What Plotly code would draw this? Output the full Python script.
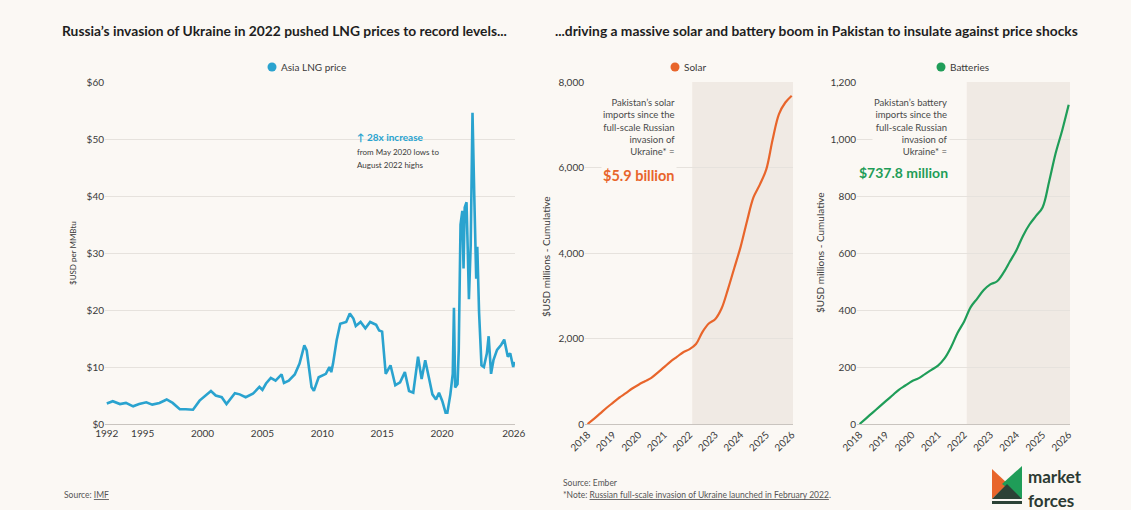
import plotly.graph_objects as go

W, H = 1131, 510
BG = "#fbf8f4"
FONT = "Lato"
TEAL = "#2aa3cf"
ORANGE = "#e8652b"
GREEN = "#1f9d58"
GRID = "#e6e2dd"
TXT = "#3a3a3a"

# ---------------- data ----------------
lng_year = [1992.0, 1992.5, 1993.1, 1993.6, 1994.2, 1994.7, 1995.3, 1995.8, 1996.4, 1997.0,
            1997.5, 1998.1, 1998.6, 1999.2, 1999.75, 2000.3, 2000.7, 2001.1, 2001.6, 2002.0,
            2002.4, 2002.7, 2003.1, 2003.6, 2004.2, 2004.75, 2005.0, 2005.3, 2005.7, 2006.1,
            2006.6, 2006.8, 2007.2, 2007.7, 2008.1, 2008.5, 2008.7, 2009.1, 2009.3, 2009.7,
            2010.3, 2010.6, 2010.75, 2010.9, 2011.2, 2011.5, 2012.0, 2012.3, 2012.6, 2012.8,
            2013.2, 2013.6, 2014.0, 2014.5, 2014.75, 2015.0, 2015.3, 2015.7, 2016.1, 2016.5,
            2016.9, 2017.25, 2017.6, 2018.0, 2018.3, 2018.6, 2018.9, 2019.2, 2019.5, 2019.75,
            2020.03, 2020.3, 2020.45, 2020.7, 2020.9, 2021.0, 2021.1, 2021.3, 2021.4, 2021.55,
            2021.7, 2021.8, 2021.9, 2022.05, 2022.15, 2022.25, 2022.4, 2022.55, 2022.7, 2022.86,
            2022.95, 2023.1, 2023.3, 2023.5, 2023.75, 2023.9, 2024.1, 2024.3, 2024.6, 2024.95,
            2025.2, 2025.5, 2025.7, 2025.85, 2025.95, 2026.05]
lng_price = [3.6, 4.0, 3.5, 3.7, 3.1, 3.5, 3.8, 3.4, 3.7, 4.3,
             3.7, 2.6, 2.6, 2.5, 4.1, 5.0, 5.8, 5.0, 4.7, 3.5,
             4.6, 5.4, 5.2, 4.7, 5.3, 6.5, 6.0, 7.1, 8.1, 7.6,
             8.7, 7.2, 7.6, 8.7, 10.6, 13.8, 12.9, 6.5, 5.8, 8.2,
             8.8, 10.0, 9.1, 10.6, 14.7, 17.6, 17.9, 19.4, 18.5, 17.2,
             17.9, 16.8, 17.9, 17.4, 16.4, 16.2, 8.8, 10.3, 6.8, 7.3,
             9.1, 5.8, 5.5, 11.8, 7.9, 11.2, 8.2, 5.2, 4.3, 5.5,
             4.0, 2.0, 2.0, 5.2, 8.8, 20.4, 6.4, 7.0, 13.0, 35.0,
             37.4, 27.3, 38.0, 38.9, 30.8, 21.9, 31.4, 54.6, 39.8, 25.5,
             31.1, 19.5, 10.3, 10.0, 12.4, 15.4, 8.8, 11.2, 13.0, 13.9,
             14.8, 11.8, 12.4, 10.6, 10.0, 10.9]

cum_year = [2018.0, 2018.25, 2018.5, 2018.75, 2019.0, 2019.25, 2019.5, 2019.75,
            2020.0, 2020.25, 2020.5, 2020.75, 2021.0, 2021.25, 2021.5, 2021.75,
            2022.0, 2022.25, 2022.5, 2022.75, 2023.0, 2023.25, 2023.5, 2023.75,
            2024.0, 2024.25, 2024.5, 2024.75, 2025.0, 2025.25, 2025.5, 2025.75, 2026.0]
solar_cum = [0, 120, 250, 380, 500, 620, 720, 830,
             920, 1000, 1080, 1200, 1330, 1460, 1570, 1680,
             1750, 1870, 2150, 2350, 2450, 2700, 3150, 3650,
             4150, 4750, 5300, 5600, 5950, 6650, 7250, 7520, 7680]
battery_cum = [0, 20, 40, 60, 80, 100, 120, 135,
               150, 160, 175, 190, 205, 230, 270, 320,
               360, 410, 440, 470, 490, 500, 530, 570,
               610, 660, 700, 730, 760, 850, 950, 1030, 1120]

lng_ticks = [1992, 1995, 2000, 2005, 2010, 2015, 2020, 2026]
lng_yticks = [0, 10, 20, 30, 40, 50, 60]
lng_ylabels = ["$0", "$10", "$20", "$30", "$40", "$50", "$60"]
cum_ticks = [2018, 2019, 2020, 2021, 2022, 2023, 2024, 2025, 2026]
solar_yticks = [0, 2000, 4000, 6000, 8000]
solar_ylabels = ["0", "2,000", "4,000", "6,000", "8,000"]
batt_yticks = [0, 200, 400, 600, 800, 1000, 1200]
batt_ylabels = ["0", "200", "400", "600", "800", "1,000", "1,200"]
invasion = 2022.1


def px(x):
    return x / W


def py(y):
    return 1 - y / H


fig = go.Figure()
fig.add_trace(go.Scatter(x=lng_year, y=lng_price, mode="lines",
                         line=dict(color=TEAL, width=2.6), xaxis="x", yaxis="y",
                         showlegend=False))
fig.add_trace(go.Scatter(x=cum_year, y=solar_cum, mode="lines",
                         line=dict(color=ORANGE, width=2.2, shape="spline"), xaxis="x2", yaxis="y2",
                         showlegend=False))
fig.add_trace(go.Scatter(x=cum_year, y=battery_cum, mode="lines",
                         line=dict(color=GREEN, width=2.2, shape="spline"), xaxis="x3", yaxis="y3",
                         showlegend=False))

ydom = [py(424), py(82)]
tickfont = dict(family=FONT, size=10, color=TXT)
common_x = dict(showgrid=False, zeroline=False, showline=True, linecolor="#c9c4bf", linewidth=1,
                ticks="", tickfont=tickfont, automargin=False)
common_y = dict(showgrid=True, gridcolor=GRID, zeroline=False, ticks="", tickfont=tickfont,
                automargin=False)

fig.update_layout(
    width=W, height=H, margin=dict(l=0, r=0, t=0, b=0, autoexpand=False),
    paper_bgcolor=BG, plot_bgcolor=BG,
    font=dict(family=FONT, color=TXT),
    xaxis=dict(domain=[px(105), px(515)], range=[1991.85, 2026.1], tickvals=lng_ticks,
               ticktext=[str(t) for t in lng_ticks], anchor="y", **common_x),
    yaxis=dict(domain=ydom, range=[0, 60], tickvals=lng_yticks, ticktext=lng_ylabels,
               anchor="x", **common_y),
    xaxis2=dict(domain=[px(585), px(793)], range=[2017.9, 2026.05], tickvals=cum_ticks,
                ticktext=[str(t) for t in cum_ticks], tickangle=-45, anchor="y2", **common_x),
    yaxis2=dict(domain=ydom, range=[0, 8000], tickvals=solar_yticks, ticktext=solar_ylabels,
                anchor="x2", **common_y),
    xaxis3=dict(domain=[px(857), px(1070)], range=[2017.9, 2026.05], tickvals=cum_ticks,
                ticktext=[str(t) for t in cum_ticks], tickangle=-45, anchor="y3", **common_x),
    yaxis3=dict(domain=ydom, range=[0, 1200], tickvals=batt_yticks, ticktext=batt_ylabels,
                anchor="x3", **common_y),
)

shapes = []
# shaded post-invasion periods
shapes.append(dict(type="rect", xref="x2", yref="y2", x0=invasion, x1=2026.05, y0=0, y1=8000,
                   fillcolor="#f0eae4", line=dict(width=0), layer="below"))
shapes.append(dict(type="rect", xref="x3", yref="y3", x0=invasion, x1=2026.05, y0=0, y1=1200,
                   fillcolor="#f0eae4", line=dict(width=0), layer="below"))
# legend dots
for cx, col in [(272, TEAL), (675, ORANGE), (941, GREEN)]:
    shapes.append(dict(type="circle", xref="paper", yref="paper",
                       x0=px(cx - 4.5), x1=px(cx + 4.5), y0=py(67 + 4.5), y1=py(67 - 4.5),
                       fillcolor=col, line=dict(width=0)))


def path(pts):
    return "M " + " L ".join(f"{px(x)},{py(y)}" for x, y in pts) + " Z"


# logo mark
shapes.append(dict(type="path", xref="paper", yref="paper",
                   path=path([(992, 469), (1008, 484), (992, 499)]), fillcolor=ORANGE, line=dict(width=0)))
shapes.append(dict(type="path", xref="paper", yref="paper",
                   path=path([(1022, 466), (1022, 499), (1002, 484)]), fillcolor=GREEN, line=dict(width=0)))
shapes.append(dict(type="path", xref="paper", yref="paper",
                   path=path([(992, 499), (1022, 499), (1007, 484)]), fillcolor="#2c4236", line=dict(width=0)))
shapes.append(dict(type="rect", xref="paper", yref="paper",
                   x0=px(992), x1=px(1022), y0=py(504), y1=py(501), fillcolor="#2c4236", line=dict(width=0)))
fig.update_layout(shapes=shapes)

ann = []


def text(x, y, s, size=9, color=TXT, xanchor="left", yanchor="middle", bold=False, **kw):
    if bold:
        s = f"<b>{s}</b>"
    ann.append(dict(x=px(x), y=py(y), xref="paper", yref="paper", text=s, showarrow=False,
                    xanchor=xanchor, yanchor=yanchor, font=dict(family=FONT, size=size, color=color),
                    **kw))


# titles
text(60, 30, "Russia’s invasion of Ukraine in 2022 pushed LNG prices to record levels...", size=13.8,
     color="#1e1e1e", bold=True)
text(553, 30, "...driving a massive solar and battery boom in Pakistan to insulate against price shocks",
     size=13.8, color="#1e1e1e", bold=True)
# legends
text(279, 67, "Asia LNG price", size=10)
text(682, 67, "Solar", size=10)
text(948, 67, "Batteries", size=10)
# y axis titles
text(73, 253, "$USD per MMBtu", size=8, xanchor="center", textangle=-90)
text(546, 257, "$USD millions - Cumulative", size=10, xanchor="center", textangle=-90)
text(820, 253, "$USD millions - Cumulative", size=10, xanchor="center", textangle=-90)
# LNG annotation
text(355, 137, "↑ 28x increase", size=10, color=TEAL, bold=True)
text(355, 152, "from May 2020 lows to", size=8)
text(355, 165, "August 2022 highs", size=8)
# solar / battery call-outs
ann.append(dict(x=px(677), y=py(95), xref="paper", yref="paper", xanchor="right", yanchor="top",
                align="right", showarrow=False, bgcolor=BG,
                text="Pakistan’s solar<br>imports since the<br>full-scale Russian<br>invasion of<br>Ukraine* =",
                font=dict(family=FONT, size=9.5, color="#4a4a4a")))
text(677, 175, "$5.9 billion", size=14.5, color=ORANGE, xanchor="right", bold=True, bgcolor=BG)
ann.append(dict(x=px(950), y=py(95), xref="paper", yref="paper", xanchor="right", yanchor="top",
                align="right", showarrow=False, bgcolor=BG,
                text="Pakistan’s battery<br>imports since the<br>full-scale Russian<br>invasion of<br>Ukraine* =",
                font=dict(family=FONT, size=9.5, color="#4a4a4a")))
text(950, 172, "$737.8 million", size=14, color=GREEN, xanchor="right", bold=True, bgcolor=BG)
# footers
text(62, 495, "Source: <u>IMF</u>", size=8.5, color="#555")
text(561, 483, "Source: Ember", size=8.5, color="#555")
text(561, 495, "*Note: <u>Russian full-scale invasion of Ukraine launched in February 2022</u>.", size=8.5,
     color="#555")
# logo text
text(1026, 489, "market", size=17, color="#2c3a33", yanchor="bottom", bold=True)
text(1026, 488, "forces", size=17, color="#2c3a33", yanchor="top", bold=True)

fig.update_layout(annotations=ann)
fig.write_html("out.html")
